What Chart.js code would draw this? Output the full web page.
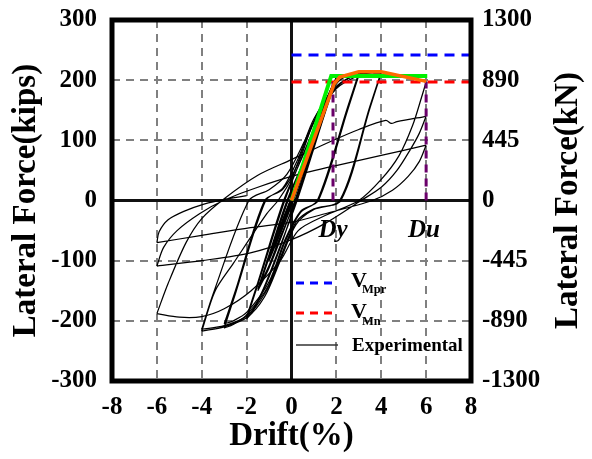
<!DOCTYPE html>
<html>
<head>
<meta charset="utf-8">
<script src="https://cdn.jsdelivr.net/npm/chart.js@4.4.0/dist/chart.umd.min.js"></script>
<style>
html,body{margin:0;padding:0;background:#fff;}
canvas{display:block;}
</style>
</head>
<body>
<canvas id="c" width="592" height="459" style="width:592px;height:459px"></canvas>
<script>
// ---------------- DATA ----------------
const driftTicks = [-8,-6,-4,-2,0,2,4,6,8];
const kipsTicks = [-300,-200,-100,0,100,200,300];
const kNLabels = ['-1300','-890','-445','0','445','890','1300'];

// reference capacities (kips)
const vMpr = 242;
const vMn = 197;
// yield / ultimate drift (%)
const dyDrift = 1.85;
const duDrift = 6.0;

// idealised bilinear envelope (green) [drift, kips]
const bilinear = [[0,0],[1.77,207],[6.05,207]];
// experimental backbone (orange)
const backbone = [[0,0],[1.9,194],[2.15,205],[3.0,214],[4.0,214],[6.0,198]];

// experimental hysteresis, half-cycles [drift %, kips]
const cyc0375 = [
  [[0,0],[0.2,21],[0.38,40]],
  [[0.38,40],[0.12,10],[-0.1,-13],[-0.38,-40]],
  [[-0.38,-40],[-0.12,-10],[0.1,13],[0.38,41]],
  [[0.38,41],[0.1,7],[-0.12,-15],[-0.38,-39]],
  [[-0.38,-39],[-0.14,-12],[0.08,12],[0.38,42]],
  [[0.38,42],[0.14,14],[-0.08,-10],[-0.38,-41]],
  [[-0.38,-41],[-0.1,-7],[0.15,19],[0.5,54]]
];
const cyc05 = [
  [[0.5,54],[0.15,12],[-0.15,-19],[-0.5,-53]],
  [[-0.5,-53],[-0.15,-12],[0.15,19],[0.5,55]],
  [[0.5,55],[0.12,8],[-0.2,-23],[-0.5,-51]],
  [[-0.5,-51],[-0.2,-18],[0.1,14],[0.5,56]],
  [[0.5,56],[0.2,22],[-0.1,-12],[-0.5,-55]],
  [[-0.5,-55],[-0.2,-16],[0.25,28],[0.75,80]]
];
const cyc075 = [
  [[0.75,80],[0.3,26],[-0.25,-30],[-0.75,-78]],
  [[-0.75,-78],[-0.3,-25],[0.25,30],[0.75,81]],
  [[0.75,81],[0.25,20],[-0.3,-34],[-0.75,-76]],
  [[-0.75,-76],[-0.35,-33],[0.2,24],[0.75,82]],
  [[0.75,82],[0.35,36],[-0.2,-22],[-0.75,-79]],
  [[-0.75,-79],[-0.25,-20],[0.3,34],[1.0,100]]
];
const cyc1 = [
  [[1.0,100],[0.5,48],[-0.15,-22],[-1.0,-100]],
  [[-1.0,-100],[-0.5,-46],[0.25,25],[1.0,98]],
  [[1.0,98],[0.45,40],[-0.2,-28],[-1.0,-98]],
  [[-1.0,-98],[-0.45,-40],[0.3,28],[1.0,96]],
  [[1.0,96],[0.45,38],[-0.25,-32],[-1.0,-97]],
  [[-1.0,-97],[-0.4,-32],[0.35,35],[1.5,150]]
];
const cyc15 = [
  [[1.5,150],[1.0,95],[0.15,0],[-0.5,-65],[-1.0,-112],[-1.5,-150]],
  [[-1.5,-150],[-1.0,-95],[-0.15,0],[0.55,65],[1.05,112],[1.5,148]],
  [[1.5,148],[1.0,92],[0.2,0],[-0.5,-60],[-1.0,-108],[-1.5,-147]],
  [[-1.5,-147],[-1.0,-90],[-0.2,0],[0.65,75],[1.25,135],[1.7,180],[2.0,205]]
];
const cyc2 = [
  [[2.0,205],[1.5,150],[0.2,0],[-0.5,-78],[-1.2,-145],[-1.7,-183],[-2.0,-197]],
  [[-2.0,-197],[-1.5,-140],[-0.3,0],[0.55,80],[1.3,145],[1.75,185],[2.0,202]],
  [[2.0,202],[1.5,146],[0.25,0],[-0.5,-75],[-1.2,-142],[-1.7,-180],[-2.0,-193]],
  [[-2.0,-193],[-1.5,-136],[-0.35,0],[0.55,78],[1.3,144],[2.0,194],[2.5,208],[3.0,212]]
];
const cyc3 = [
  [[3.0,212],[2.5,155],[1.15,0],[0.4,-20],[-0.3,-70],[-1.0,-140],[-2.0,-190],[-2.6,-206],[-3.0,-212]],
  [[-3.0,-212],[-2.5,-155],[-1.15,0],[-0.4,20],[0.3,70],[1.0,136],[2.0,188],[2.6,204],[3.0,208]],
  [[3.0,208],[2.5,150],[1.2,0],[0.4,-18],[-0.3,-66],[-1.0,-135],[-2.0,-186],[-2.6,-200],[-3.0,-205]],
  [[-3.0,-205],[-2.5,-150],[-1.2,0],[-0.4,18],[0.3,62],[1.0,130],[2.0,186],[3.0,208],[3.6,213],[4.0,214]]
];
const cyc4 = [
  [[4.0,214],[3.5,157],[2.15,0],[1.0,-15],[0.2,-40],[-0.5,-100],[-1.2,-160],[-2.0,-195],[-3.0,-210],[-4.0,-217]],
  [[-4.0,-217],[-3.4,-150],[-2.6,-105],[-1.1,-22],[-0.6,0],[0.0,36],[0.6,95],[1.3,155],[2.0,190],[3.0,210],[4.0,212]],
  [[4.0,212],[3.5,154],[2.2,0],[1.0,-14],[0.2,-36],[-0.5,-95],[-1.2,-155],[-2.0,-192],[-3.0,-208],[-4.0,-214]],
  [[-4.0,-214],[-3.5,-156],[-1.9,0],[-1.0,18],[-0.2,44],[0.6,100],[1.3,155],[2.0,190],[3.0,210],[4.0,213],[5.0,207],[6.0,197]]
];
const cyc6 = [
  [[6.0,197],[5.8,172],[5.4,125],[4.8,75],[4.0,35],[3.0,0],[1.5,-25],[0.3,-50],[-0.5,-100],[-1.8,-150],[-3.0,-180],[-4.0,-193],[-5.0,-194],[-6.0,-188]],
  [[-6.0,-188],[-5.5,-138],[-4.7,-70],[-4.0,-30],[-3.0,3],[-1.5,42],[0.0,68],[1.74,98],[3.0,118],[4.2,133],[4.45,128],[4.7,131],[6.0,140]],
  [[6.0,140],[5.7,112],[5.3,85],[4.7,50],[4.0,22],[3.1,0],[1.5,-38],[0.0,-65],[-1.83,-87],[-4.0,-100],[-6.0,-109]],
  [[-6.0,-109],[-5.7,-78],[-5.1,-50],[-4.1,-22],[-3.04,0],[-1.5,22],[0.0,40],[1.74,56],[4.0,75],[6.0,92]],
  [[6.0,92],[5.7,65],[5.2,40],[4.5,17],[3.6,0],[1.5,-22],[0.0,-36],[-1.83,-45],[-4.0,-58],[-6.0,-70]],
  [[-6.0,-70],[-5.9,-52],[-5.5,-32],[-4.8,-18],[-3.9,-6],[-3.0,2],[-2.0,8]]
];

// ---------------- BUILD ----------------
const toXY = pts => pts.map(p => ({x:p[0], y:p[1]}));
function joinHalfCycles(segs){
  const out = [];
  segs.forEach((s,i) => {
    if (i > 0) out.push({x:s[0][0], y:null});
    s.forEach(p => out.push({x:p[0], y:p[1]}));
  });
  return out;
}
const expGroups = [cyc0375, cyc05, cyc075, cyc1, cyc15, cyc2, cyc3, cyc4, cyc6];

const SERIF = "'Liberation Serif', 'Times New Roman', serif";
const BLUE = '#0000ff', RED = '#ff0000', PURPLE = '#6a006a', GREEN = '#00f000', ORANGE = '#ff6a00';

const datasets = [];
expGroups.forEach((g,i) => datasets.push({
  label: 'Experimental', data: joinHalfCycles(g), showLine: true,
  borderColor: '#000', borderWidth: 1.25, pointRadius: 0, tension: 0.3,
  spanGaps: false, order: 20
}));
datasets.push({label:'VMpr', data: toXY([[0,vMpr],[8,vMpr]]), showLine:true, borderColor:BLUE,
  borderWidth:3, borderDash:[10,7], pointRadius:0, order:5});
datasets.push({label:'VMn', data: toXY([[0,vMn],[8,vMn]]), showLine:true, borderColor:RED,
  borderWidth:3, borderDash:[10,7], pointRadius:0, order:5});
datasets.push({label:'Dy', data: toXY([[dyDrift,0],[dyDrift,vMn]]), showLine:true, borderColor:PURPLE,
  borderWidth:3, borderDash:[8,6], pointRadius:0, order:3});
datasets.push({label:'Du', data: toXY([[duDrift,0],[duDrift,vMn]]), showLine:true, borderColor:PURPLE,
  borderWidth:3, borderDash:[8,6], pointRadius:0, order:3});
datasets.push({label:'Bilinear', data: toXY(bilinear), showLine:true, borderColor:GREEN,
  borderWidth:4, pointRadius:0, tension:0, order:2});
datasets.push({label:'Backbone', data: toXY(backbone), showLine:true, borderColor:ORANGE,
  borderWidth:3.5, pointRadius:0, tension:0, order:1});

const tickFont = {family: SERIF, size: 25, weight: 'bold'};
const titleFont = {family: SERIF, size: 33, weight: 'bold', lineHeight: 1};

const framePlugin = {
  id: 'frame',
  beforeDatasetsDraw(chart){
    const {ctx, chartArea:a, scales} = chart;
    const x0 = scales.x.getPixelForValue(0), y0 = scales.y.getPixelForValue(0);
    ctx.save();
    ctx.strokeStyle = '#111'; ctx.lineWidth = 3; ctx.setLineDash([]);
    ctx.beginPath(); ctx.moveTo(a.left, y0); ctx.lineTo(a.right, y0); ctx.stroke();
    ctx.beginPath(); ctx.moveTo(x0, a.top); ctx.lineTo(x0, a.bottom); ctx.stroke();
    ctx.restore();
  },
  afterDatasetsDraw(chart){
    const {ctx, chartArea:a, scales} = chart;
    ctx.save();
    ctx.strokeStyle = '#000'; ctx.lineWidth = 5; ctx.setLineDash([]);
    ctx.strokeRect(a.left, a.top, a.right - a.left, a.bottom - a.top);
    // Dy / Du labels
    ctx.fillStyle = '#000';
    ctx.font = "italic bold 25px " + SERIF;
    ctx.textAlign = 'center'; ctx.textBaseline = 'alphabetic';
    const yl = scales.y.getPixelForValue(-61);
    ctx.fillText('Dy', scales.x.getPixelForValue(1.85), yl);
    ctx.fillText('Du', scales.x.getPixelForValue(5.9), yl);
    // legend
    const items = [
      {c:BLUE, dash:[8,6], w:3, y:283, main:'V', sub:'Mpr', by:287, sy:293},
      {c:RED, dash:[8,6], w:3, y:313, main:'V', sub:'Mn', by:318, sy:325},
      {c:'#333', dash:[], w:1.5, y:345, text:'Experimental', by:351}
    ];
    items.forEach(it => {
      ctx.strokeStyle = it.c; ctx.lineWidth = it.w; ctx.setLineDash(it.dash);
      ctx.beginPath(); ctx.moveTo(296, it.y); ctx.lineTo(338, it.y); ctx.stroke();
      ctx.setLineDash([]);
      ctx.fillStyle = '#000'; ctx.textAlign = 'left'; ctx.textBaseline = 'alphabetic';
      if (it.text) {
        ctx.font = "bold 19px " + SERIF; ctx.fillText(it.text, 352, it.by);
      } else {
        ctx.font = "bold 22px " + SERIF; ctx.fillText(it.main, 351, it.by);
        ctx.font = "bold 12.5px " + SERIF; ctx.fillText(it.sub, 362, it.sy);
      }
    });
    // right axis title (reads bottom-to-top)
    ctx.translate(568.5, (a.top + a.bottom) / 2);
    ctx.rotate(-Math.PI / 2);
    ctx.font = "bold 33px " + SERIF; ctx.textAlign = 'center'; ctx.textBaseline = 'middle';
    ctx.fillText('Lateral Force(kN)', 0, 0);
    ctx.restore();
  }
};

const gridColor = c => (c.tick && c.tick.value === 0) ? 'rgba(0,0,0,0)' : '#808080';

new Chart(document.getElementById('c'), {
  type: 'scatter',
  data: { datasets },
  options: {
    responsive: false, animation: false, devicePixelRatio: 1,
    layout: { padding: { top: 20, left: 0, right: 0, bottom: 0 } },
    plugins: { legend: {display:false}, tooltip: {enabled:false} },
    scales: {
      x: {
        type: 'linear', min: -8, max: 8,
        afterBuildTicks(s){ s.ticks = driftTicks.map(v => ({value:v})); },
        ticks: { font: tickFont, color: '#000', padding: 12, maxRotation: 0 },
        grid: { color: gridColor, lineWidth: 2, drawTicks: false },
        border: { display: false, dash: [8,6] },
        title: { display: true, text: 'Drift(%)', font: titleFont, color: '#000', padding: {top: 0, bottom: 6} },
        afterFit(s){ s.height = 78; s.paddingLeft = 0; s.paddingRight = 0; }
      },
      y: {
        type: 'linear', position: 'left', min: -300, max: 300,
        afterBuildTicks(s){ s.ticks = kipsTicks.map(v => ({value:v})); },
        ticks: { font: tickFont, color: '#000', padding: 15 },
        grid: { color: gridColor, lineWidth: 2, drawTicks: false },
        border: { display: false, dash: [8,6] },
        title: { display: true, text: 'Lateral Force(kips)', font: titleFont, color: '#000', padding: {top: 10, bottom: 0} },
        afterFit(s){ s.width = 112; s.paddingTop = 0; s.paddingBottom = 0; }
      },
      y2: {
        type: 'linear', position: 'right', min: -300, max: 300,
        afterBuildTicks(s){ s.ticks = kipsTicks.map(v => ({value:v})); },
        ticks: { font: tickFont, color: '#000', padding: 11, callback: (v, i) => kNLabels[i] },
        grid: { display: false, drawTicks: false },
        border: { display: false },
        title: { display: false },
        afterFit(s){ s.width = 121; s.paddingTop = 0; s.paddingBottom = 0; }
      }
    }
  },
  plugins: [framePlugin]
});
</script>
</body>
</html>
